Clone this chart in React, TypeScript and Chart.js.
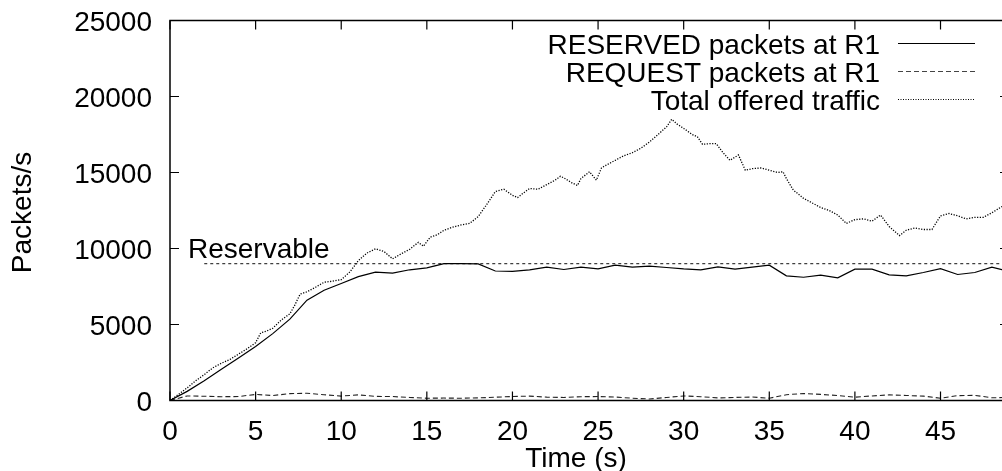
import React, { useEffect, useRef } from "react";
import { Chart, registerables } from "chart.js";

Chart.register(...registerables);

// ---- data ----
const reservedTimes = [0, 1, 2, 3, 4, 5, 6, 7, 8, 9, 10, 11, 12, 13, 14, 15, 16, 17, 18, 19, 20, 21, 22, 23, 24, 25, 26, 27, 28, 29, 30, 31, 32, 33, 34, 35, 36, 37, 38, 39, 40, 41, 42, 43, 44, 45, 46, 47, 48, 49];
const reservedValues = [0, 600, 1300, 2050, 2800, 3550, 4400, 5350, 6600, 7250, 7700, 8150, 8450, 8380, 8600, 8720, 9000, 9000, 8990, 8520, 8500, 8600, 8770, 8620, 8770, 8660, 8900, 8770, 8840, 8750, 8660, 8600, 8790, 8640, 8770, 8900, 8200, 8110, 8250, 8070, 8640, 8640, 8270, 8200, 8420, 8680, 8290, 8420, 8770, 8500];

const requestTimes = reservedTimes;
const requestValues = [0, 300, 280, 250, 260, 400, 330, 450, 480, 380, 290, 370, 270, 260, 200, 150, 160, 150, 170, 220, 260, 290, 220, 200, 250, 260, 230, 150, 100, 200, 300, 250, 170, 200, 230, 150, 380, 460, 400, 330, 220, 300, 370, 330, 290, 150, 320, 340, 180, 200];

const offeredTimes = [0, 0.5, 1, 1.5, 2, 2.5, 3, 3.5, 4, 4.5, 5, 5.3, 5.6, 6, 6.5, 7, 7.3, 7.6, 8, 8.5, 9, 9.5, 10, 10.5, 11, 11.5, 12, 12.5, 13, 13.5, 14, 14.5, 14.8, 15.2, 15.6, 16, 16.5, 17, 17.5, 18, 18.5, 19, 19.5, 20, 20.3, 20.7, 21, 21.5, 22, 22.5, 22.8, 23, 23.5, 23.8, 24, 24.5, 24.9, 25.2, 25.5, 26, 26.5, 27, 27.5, 28, 28.5, 29, 29.3, 29.6, 30, 30.5, 30.8, 31.1, 31.5, 31.9, 32.3, 32.7, 33.2, 33.6, 34, 34.5, 35, 35.5, 35.8, 36, 36.4, 37, 37.5, 38, 38.5, 39, 39.5, 40, 40.5, 41, 41.5, 42, 42.6, 43, 43.5, 44, 44.5, 45, 45.5, 46, 46.5, 47, 47.5, 48, 48.5, 49];
const offeredValues = [0, 400, 830, 1300, 1700, 2150, 2450, 2700, 3050, 3400, 3800, 4450, 4550, 4750, 5300, 5700, 6300, 7000, 7150, 7450, 7780, 7850, 7950, 8450, 9200, 9700, 9980, 9800, 9320, 9650, 9950, 10400, 10150, 10750, 10900, 11200, 11400, 11550, 11650, 12100, 12900, 13750, 13900, 13500, 13350, 13700, 13950, 13900, 14200, 14500, 14750, 14650, 14300, 14150, 14600, 15050, 14500, 15300, 15500, 15800, 16100, 16300, 16600, 17000, 17500, 18000, 18500, 18200, 17900, 17500, 17350, 16850, 16900, 16900, 16300, 15800, 16150, 15150, 15250, 15300, 15150, 15000, 15050, 14600, 13850, 13300, 13000, 12700, 12500, 12200, 11650, 11900, 11950, 11800, 12200, 11450, 10850, 11200, 11350, 11250, 11250, 12150, 12300, 12150, 11950, 12050, 12050, 12350, 12700, 13000];

const reservableTimes = [2, 49];
const reservableValues = [9000, 9000];

const xTicks = [0, 5, 10, 15, 20, 25, 30, 35, 40, 45];
const yTicks = [0, 5000, 10000, 15000, 20000, 25000];

const legendLabels = ["RESERVED packets at R1", "REQUEST packets at R1", "Total offered traffic"];
const xTitle = "Time (s)";
const yTitle = "Packets/s";
const reservableLabel = "Reservable";

const X_MIN = 0;
const X_MAX = 49;
const Y_MIN = 0;
const Y_MAX = 25000;

const CANVAS_W = 1030;
const CANVAS_H = 471;
const FONT = '28px "Liberation Sans", Arial, Helvetica, sans-serif';

const zip = (xs: number[], ys: number[]) => xs.map((x, i) => ({ x, y: ys[i] }));

export default function App() {
  const ref = useRef<HTMLCanvasElement>(null);

  useEffect(() => {
    const canvas = ref.current;
    if (!canvas) return;

    const frame = {
      id: "gnuplotFrame",
      afterDraw(chart: any) {
        const ctx = chart.ctx as CanvasRenderingContext2D;
        const { left, right, top, bottom } = chart.chartArea;
        const xs = chart.scales.x;
        const ys = chart.scales.y;
        ctx.save();
        ctx.strokeStyle = "#000";
        ctx.fillStyle = "#000";
        ctx.lineWidth = 1.5;
        ctx.setLineDash([]);
        ctx.strokeRect(left, top, right - left, bottom - top);

        // ticks (inward, mirrored)
        ctx.lineWidth = 1.2;
        const TL = 9;
        ctx.beginPath();
        for (const v of yTicks) {
          const y = ys.getPixelForValue(v);
          ctx.moveTo(left, y);
          ctx.lineTo(left + TL, y);
          ctx.moveTo(right, y);
          ctx.lineTo(right - TL, y);
        }
        for (const v of xTicks) {
          const x = xs.getPixelForValue(v);
          ctx.moveTo(x, bottom);
          ctx.lineTo(x, bottom - TL);
          ctx.moveTo(x, top);
          ctx.lineTo(x, top + TL);
        }
        ctx.stroke();

        // tick labels
        ctx.font = FONT;
        ctx.textBaseline = "alphabetic";
        ctx.textAlign = "right";
        for (const v of yTicks) {
          const y = ys.getPixelForValue(v);
          ctx.fillText(String(v), 152, y + 10);
        }
        ctx.textAlign = "center";
        for (const v of xTicks) {
          const x = xs.getPixelForValue(v);
          ctx.fillText(String(v), x, 440);
        }

        // axis titles
        ctx.fillText(xTitle, 576, 467);
        ctx.save();
        ctx.translate(31, (top + bottom) / 2 + 2);
        ctx.rotate(-Math.PI / 2);
        ctx.textAlign = "center";
        ctx.fillText(yTitle, 0, 0);
        ctx.restore();

        // Reservable label
        ctx.textAlign = "left";
        ctx.fillText(reservableLabel, 188, 258);

        // legend
        const rows = [43.5, 71.5, 99.5];
        const dashes = [[], [5, 3], [1, 1.5]];
        const widths = [1.2, 1, 1.2];
        const colors = ["#000", "#444", "#000"];
        ctx.textAlign = "right";
        legendLabels.forEach((label, i) => {
          ctx.fillStyle = "#000";
          ctx.fillText(label, 880, rows[i] + 10);
          ctx.beginPath();
          ctx.setLineDash(dashes[i]);
          ctx.lineWidth = widths[i];
          ctx.strokeStyle = colors[i];
          ctx.moveTo(898, rows[i]);
          ctx.lineTo(975, rows[i]);
          ctx.stroke();
        });
        ctx.restore();
      },
    };

    const chart = new Chart(canvas, {
      type: "line",
      data: {
        datasets: [
          {
            label: legendLabels[0],
            data: zip(reservedTimes, reservedValues),
            borderColor: "#000",
            borderWidth: 1.2,
            pointRadius: 0,
            tension: 0,
          },
          {
            label: legendLabels[1],
            data: zip(requestTimes, requestValues),
            borderColor: "#222",
            borderWidth: 1.1,
            borderDash: [5, 3],
            pointRadius: 0,
            tension: 0,
          },
          {
            label: legendLabels[2],
            data: zip(offeredTimes, offeredValues),
            borderColor: "#000",
            borderWidth: 1.3,
            borderDash: [1.2, 1.5],
            pointRadius: 0,
            tension: 0,
          },
          {
            label: reservableLabel,
            data: zip(reservableTimes, reservableValues),
            borderColor: "#111",
            borderWidth: 1,
            borderDash: [3, 3],
            pointRadius: 0,
            tension: 0,
          },
        ],
      },
      options: {
        responsive: false,
        animation: false,
        devicePixelRatio: 1,
        layout: { padding: { left: 170, top: 20.5, right: CANVAS_W - 1009, bottom: CANVAS_H - 400.5 } },
        plugins: { legend: { display: false }, tooltip: { enabled: false } },
        events: [],
        scales: {
          x: { type: "linear", min: X_MIN, max: X_MAX, display: false },
          y: { type: "linear", min: Y_MIN, max: Y_MAX, display: false },
        },
      },
      plugins: [frame],
    } as any);

    return () => chart.destroy();
  }, []);

  return (
    <div style={{ position: "fixed", left: 0, top: 0, width: 1002, height: 471, overflow: "hidden", background: "#fff" }}>
      <canvas ref={ref} width={CANVAS_W} height={CANVAS_H} style={{ width: CANVAS_W, height: CANVAS_H, display: "block" }} />
    </div>
  );
}
